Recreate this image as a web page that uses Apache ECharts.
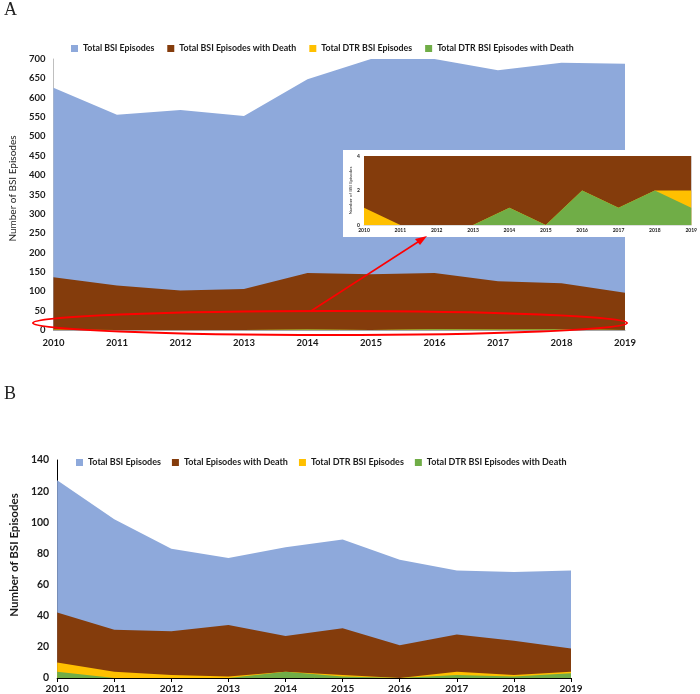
<!DOCTYPE html>
<html><head><meta charset="utf-8">
<script src="https://cdn.jsdelivr.net/npm/echarts@6/dist/echarts.min.js"></script>
<style>html,body{margin:0;padding:0;background:#fff}#c{width:700px;height:694px}</style>
</head><body><div id="c"></div>
<script>
const years = ['2010','2011','2012','2013','2014','2015','2016','2017','2018','2019'];
const aTotal = [626, 556, 568, 553, 648, 700, 700, 671, 690, 688];
const aDeath = [136, 115, 102, 106, 147, 144, 147, 126, 121, 96];
const aDtr = [1, 0, 0, 0, 1, 0, 2, 1, 2, 2];
const aDtrDeath = [0, 0, 0, 0, 1, 0, 2, 1, 2, 1];
const bTotal = [127, 102, 83, 77, 84, 89, 76, 69, 68, 69];
const bDeath = [42, 31, 30, 34, 27, 32, 21, 28, 24, 19];
const bDtr = [10, 4, 2, 1, 4, 2, 0, 4, 2, 4];
const bDtrDeath = [4, 0, 0, 0, 4, 1, 0, 2, 1, 3];
const aNames = ['Total BSI Episodes','Total BSI Episodes with Death','Total DTR BSI Episodes','Total DTR BSI Episodes with Death'];
const bNames = ['Total BSI Episodes','Total Episodes with Death','Total DTR BSI Episodes','Total DTR BSI Episodes with Death'];
const aYTicks = {min:0, max:700, interval:50};
const bYTicks = {min:0, max:140, interval:20};
const insetYTicks = {min:0, max:4, interval:2};

const colors = ['#8EA9DB','#843C0C','#FFC000','#70AD47'];
const FF = 'Lato, "Open Sans", sans-serif';

function areaSeries(name, data, color, xi, yi, z){
  return {type:'line', name, data, xAxisIndex:xi, yAxisIndex:yi, symbol:'none', silent:true,
    lineStyle:{width:0}, areaStyle:{color, opacity:1}, itemStyle:{color}, z, clip:true, animation:false};
}
const series = [];
[aTotal,aDeath,aDtr,aDtrDeath].forEach((d,i)=>series.push(areaSeries(aNames[i], d, colors[i], 0, 0, 2+i*0.01)));
[aTotal,aDeath,aDtr,aDtrDeath].forEach((d,i)=>series.push(areaSeries(aNames[i], d, colors[i], 1, 1, 10+i*0.01)));
[bTotal,bDeath,bDtr,bDtrDeath].forEach((d,i)=>series.push(areaSeries(bNames[i], d, colors[i], 2, 2, 2+i*0.01)));

const boldLbl = {fontFamily:FF, fontWeight:'bold', color:'#1a1a1a'};

const option = {
  animation:false,
  color: colors,
  grid:[
    {left:41, top:59, width:584, height:271},
    {left:364, top:156, width:331, height:69, z:10},
    {left:50, top:460, width:521, height:218}
  ],
  legend:[
    {data:aNames, left:66, top:39, icon:'rect', itemWidth:7, itemHeight:7, itemGap:13, selectedMode:false,
     textStyle:{fontFamily:FF, fontWeight:'bold', fontSize:8.8, color:'#1a1a1a'}},
    {data:bNames, left:71, top:453, icon:'rect', itemWidth:7, itemHeight:7, itemGap:11, selectedMode:false,
     textStyle:{fontFamily:FF, fontWeight:'bold', fontSize:9, color:'#1a1a1a'}}
  ],
  xAxis:[
    {type:'category', data:years, gridIndex:0, boundaryGap:false,
     axisLine:{lineStyle:{color:'#a6a6a6'}}, axisTick:{show:false},
     axisLabel:{...boldLbl, fontSize:9.5, margin:8}},
    {type:'category', data:years, gridIndex:1, boundaryGap:false, z:10,
     axisLine:{lineStyle:{color:'#bfbfbf', width:0.5}}, axisTick:{show:false},
     axisLabel:{...boldLbl, fontSize:5, margin:3}},
    {type:'category', data:years, gridIndex:2, boundaryGap:false,
     axisLine:{lineStyle:{color:'#000', width:1}}, axisTick:{show:true, length:4, lineStyle:{color:'#000'}},
     axisLabel:{...boldLbl, fontSize:10, margin:6}}
  ],
  yAxis:[
    {type:'value', gridIndex:0, ...aYTicks, splitLine:{show:false},
     axisLine:{show:true, lineStyle:{color:'#bfbfbf'}}, axisTick:{show:false},
     axisLabel:{...boldLbl, fontSize:9.5, margin:8},
     name:'Number of BSI Episodes', nameLocation:'middle', nameGap:34,
     nameTextStyle:{fontFamily:FF, fontSize:10, color:'#222', padding:[0,0,0,12]}},
    {type:'value', gridIndex:1, ...insetYTicks, splitLine:{show:false}, z:10,
     axisLine:{show:false}, axisTick:{show:false},
     axisLabel:{...boldLbl, fontSize:5, margin:4},
     name:'Number of BSI Episodes', nameLocation:'middle', nameGap:10,
     nameTextStyle:{fontFamily:FF, fontSize:4.5, color:'#222'}},
    {type:'value', gridIndex:2, ...bYTicks, splitLine:{show:false},
     axisLine:{show:true, lineStyle:{color:'#000'}}, axisTick:{show:false},
     axisLabel:{...boldLbl, fontSize:10.5, margin:8},
     name:'Number of BSI Episodes', nameLocation:'middle', nameGap:34,
     nameTextStyle:{fontFamily:FF, fontSize:11.5, fontWeight:'bold', color:'#1a1a1a', padding:[0,0,0,28]}}
  ],
  graphic:[
    {type:'text', left:4, top:1, z:30, style:{text:'A', font:'18px "Liberation Serif", serif', fill:'#222'}},
    {type:'text', left:4, top:385, z:30, style:{text:'B', font:'18px "Liberation Serif", serif', fill:'#222'}},
    {type:'rect', z:5, shape:{x:343, y:150, width:354, height:87}, style:{fill:'#fff'}},
    {type:'ellipse', z:30, shape:{cx:330, cy:323, rx:297, ry:12}, style:{fill:'none', stroke:'#ff0000', lineWidth:2}},
    {type:'line', z:30, shape:{x1:311, y1:311, x2:421, y2:240}, style:{stroke:'#ff0000', lineWidth:1.5}},
    {type:'polygon', z:30, shape:{points:[[427,236],[415,239],[420,245]]}, style:{fill:'#ff0000'}}
  ],
  series
};
const chart = echarts.init(document.getElementById('c'), null, {renderer:'canvas'});
chart.setOption(option);
</script></body></html>
